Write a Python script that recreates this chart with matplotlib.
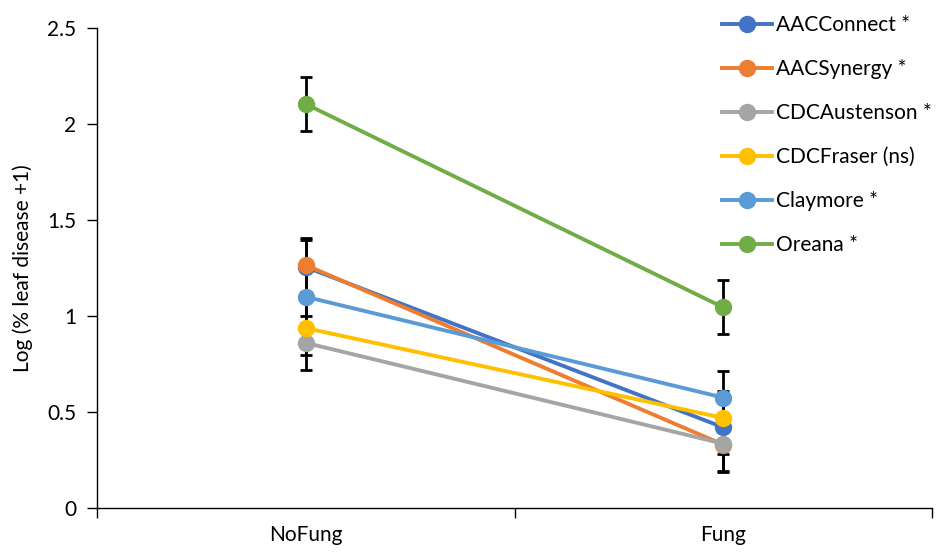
import matplotlib.pyplot as plt
import numpy as np

plt.rcParams['font.family'] = ['Lato', 'DejaVu Sans']

treatments = ['NoFung', 'Fung']
cultivars = ['AACConnect *', 'AACSynergy *', 'CDCAustenson *',
             'CDCFraser (ns)', 'Claymore *', 'Oreana *']
colors = ['#4472C4', '#ED7D31', '#A5A5A5', '#FFC000', '#5B9BD5', '#70AD47']

connect = [1.255, 0.42]
synergy = [1.265, 0.33]
austenson = [0.86, 0.335]
fraser = [0.937, 0.469]
claymore = [1.10, 0.575]
oreana = [2.104, 1.045]
err = 0.14

values = [connect, synergy, austenson, fraser, claymore, oreana]

fig = plt.figure(figsize=(9.39, 5.52), dpi=100)
ax = fig.add_axes([97 / 939, 44 / 552, 835 / 939, 480 / 552])

x = np.arange(len(treatments))
for i, (name, vals) in enumerate(zip(cultivars, values)):
    ax.errorbar(x, vals, yerr=err, fmt='none', ecolor='black',
                elinewidth=2, capsize=4.6, capthick=2, zorder=1)
    ax.plot(x, vals, color=colors[i], lw=2.8, marker='o', markersize=11.5,
            label=name, zorder=2 + i)

ax.set_xlim(-0.5, 1.5)
ax.set_ylim(0, 2.5)
ax.set_yticks(np.arange(0, 2.51, 0.5))
ax.set_yticklabels(['0', '0.5', '1', '1.5', '2', '2.5'])
ax.set_xticks([-0.5, 0.5, 1.5])
ax.set_xticklabels([])
ax.set_xticks(x, minor=True)
ax.set_xticklabels(treatments, minor=True)
ax.tick_params(axis='x', which='minor', length=0, pad=12, labelsize=15)
ax.tick_params(axis='x', which='major', length=7, direction='out', width=1)
ax.tick_params(axis='y', length=7, direction='out', width=1, labelsize=15, pad=8)

for s in ['top', 'right']:
    ax.spines[s].set_visible(False)
ax.spines['left'].set_linewidth(1)
ax.spines['bottom'].set_linewidth(1)

ax.set_ylabel('Log (% leaf disease +1)', fontsize=15, labelpad=10)

fig.legend(loc='upper left', bbox_to_anchor=(703 / 939, 1.006), frameon=False,
           fontsize=15, handlelength=2.4, labelspacing=1.15, handletextpad=0.2)

fig.savefig('out.png', dpi=100)
